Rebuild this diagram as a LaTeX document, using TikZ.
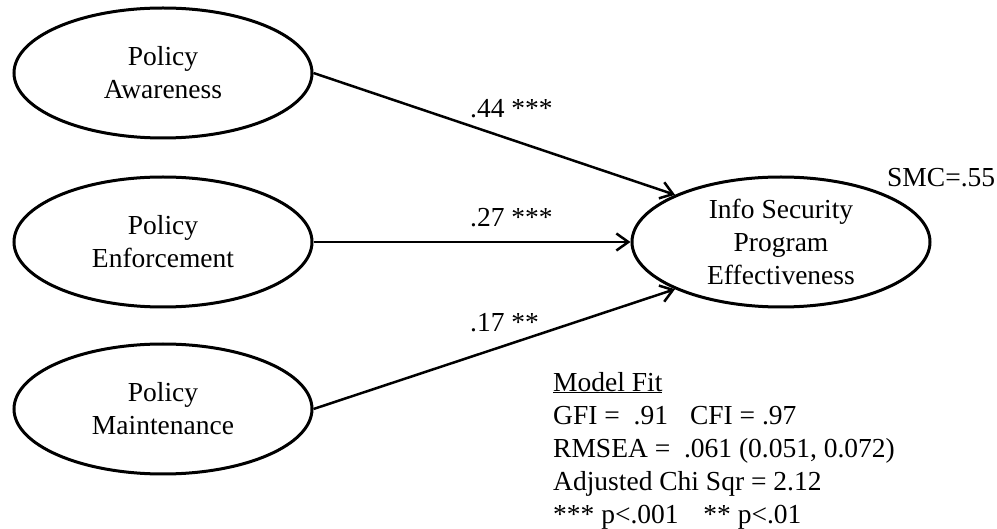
\documentclass[tikz,border=0pt]{standalone}
\usepackage{fontspec}
\setmainfont{Liberation Serif}
\usetikzlibrary{shapes.geometric,arrows.meta}

\begin{document}
\begin{tikzpicture}[inner sep=0pt, x=1pt, y=1pt,
    every node/.style={font=\fontsize{27.5}{33}\selectfont},
    construct/.style={ellipse, draw, line width=3pt, minimum width=298pt, minimum height=130pt, align=center},
    path_arrow/.style={line width=2.5pt, -{Straight Barb[length=12pt,width=17pt]}}]
    \useasboundingbox (0,0) rectangle (997,-529);

    % latent constructs
    \node[construct] (pol_aware) at (163,-73) {Policy\\Awareness};
    \node[construct] (pol_enf) at (163,-242) {Policy\\Enforcement};
    \node[construct] (pol_maint) at (163,-409) {Policy\\Maintenance};
    \node[construct] (isp_eff) at (781,-242) {Info Security\\Program\\Effectiveness};

    % paths
    \draw[path_arrow] (pol_aware.east) -- (isp_eff.156);
    \draw[path_arrow] (pol_enf.east) -- (isp_eff.west);
    \draw[path_arrow] (pol_maint.east) -- (isp_eff.204);

    % path coefficients
    \node[anchor=base west] (w_aware) at (470,-118) {.44 ***};
    \node[anchor=base west] (w_enf) at (470,-227) {.27 ***};
    \node[anchor=base west] (w_maint) at (470,-332) {.17 **};

    \node[anchor=base west] (smc) at (887,-187) {SMC=.55};

    % fit indices (base = last line)
    \node[anchor=base west, align=left] (model_fit) at (553,-523)
    {\underline{Model Fit}\\
    GFI =\ \ .91\hspace{0.8em}CFI = .97\\
    RMSEA =\ \ .061 (0.051, 0.072)\\
    Adjusted Chi Sqr = 2.12\\
    *** p<.001\hspace{0.9em}** p<.01};

\end{tikzpicture}
\end{document}
